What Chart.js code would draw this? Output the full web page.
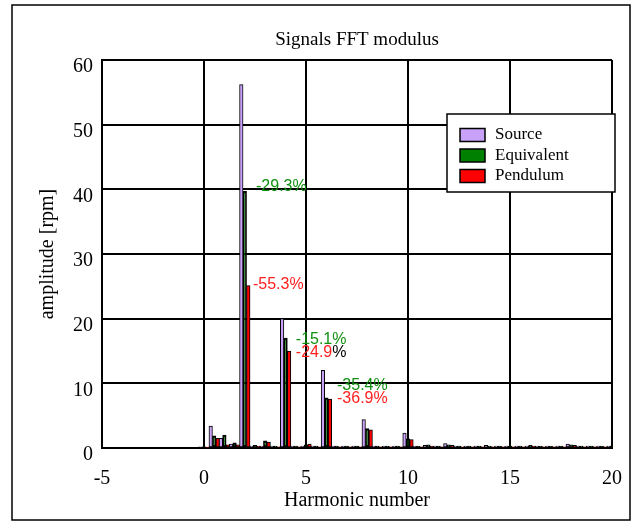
<!DOCTYPE html>
<html><head><meta charset="utf-8">
<script src="https://cdn.jsdelivr.net/npm/chart.js@4/dist/chart.umd.min.js"></script>
<style>html,body{margin:0;padding:0;background:#fff}#wrap{width:642px;height:527px}</style>
</head><body><div id="wrap"><canvas id="c" width="642" height="527"></canvas></div>
<script>
const harmonics = [0,0.5,1,1.5,2,2.5,3,3.5,4,4.5,5,5.5,6,6.5,7,7.5,8,8.5,9,9.5,10,10.5,11,11.5,12,12.5,13,13.5,14,14.5,15,15.5,16,16.5,17,17.5,18,18.5,19,19.5,20];
const source     = [0.2,3.4,1.5,0.6,56.2,0.3,0.3,0.3,20.0,0.3,0.3,0.3,12.0,0.3,0.3,0.3,4.4,0.3,0.3,0.3,2.3,0.3,0.4,0.3,0.7,0.3,0.3,0.3,0.4,0.3,0.3,0.3,0.3,0.3,0.3,0.3,0.6,0.3,0.3,0.3,0.3];
const equivalent = [0.2,1.9,2.0,0.8,39.7,0.4,1.1,0.3,17.0,0.3,0.5,0.3,7.75,0.3,0.3,0.3,3.0,0.3,0.3,0.3,1.4,0.3,0.5,0.3,0.5,0.3,0.3,0.3,0.3,0.3,0.3,0.3,0.4,0.3,0.3,0.3,0.5,0.3,0.3,0.3,0.3];
const pendulum   = [0.1,1.5,0.5,0.5,25.1,0.3,0.9,0.2,15.0,0.2,0.6,0.2,7.57,0.2,0.2,0.2,2.8,0.2,0.2,0.2,1.3,0.2,0.3,0.2,0.4,0.2,0.2,0.2,0.2,0.2,0.2,0.2,0.3,0.2,0.2,0.2,0.4,0.2,0.2,0.2,0.2];
const seriesNames = ['Source','Equivalent','Pendulum'];
const seriesColors = ['#c8a2f8','#008000','#ff0000'];
const xTicks = [-5,0,5,10,15,20];
const yTicks = [0,10,20,30,40,50,60];
const noteX = [2.55,2.4,4.5,4.5,6.52,6.52];
const noteY = [40.4,25.2,16.7,14.8,9.7,7.6];
const noteText = ['-29.3%','-55.3%','-15.1%','-24.9','-35.4%','-36.9%'];
const noteSuffix = ['','','','%','',''];
const noteColor = ['#109010','#ff2020','#109010','#ff2020','#109010','#ff2020'];

const SERIF = "'Liberation Serif','Times New Roman',serif";
const SANS = "'Liberation Sans',Arial,sans-serif";

const values = [source, equivalent, pendulum];
const borderWidths = [1, 1.75, 1];
const datasets = seriesNames.map((name, k) => ({
  label: name,
  data: harmonics.map((h, i) => ({x: h, y: values[k][i]})),
  backgroundColor: seriesColors[k],
  borderColor: '#000',
  borderWidth: borderWidths[k],
  borderSkipped: false,
  barThickness: 3.5
}));

const framePlugin = {
  id: 'frame',
  beforeDraw(chart) {
    const ctx = chart.ctx;
    ctx.save();
    ctx.fillStyle = '#fff';
    ctx.fillRect(0, 0, chart.width, chart.height);
    ctx.strokeStyle = '#000';
    ctx.lineWidth = 1.5;
    ctx.strokeRect(12, 5, 618, 515);
    const a = chart.chartArea;
    ctx.fillStyle = '#000';
    ctx.font = '19px ' + SERIF;
    ctx.textAlign = 'center';
    ctx.textBaseline = 'middle';
    ctx.fillText('Signals FFT modulus', (a.left + a.right) / 2, 40);
    ctx.restore();
  },
  afterDatasetsDraw(chart) {
    const ctx = chart.ctx;
    const xs = chart.scales.x, ys = chart.scales.y;
    ctx.save();
    ctx.font = '16px ' + SANS;
    ctx.textAlign = 'left';
    ctx.textBaseline = 'middle';
    noteText.forEach((t, i) => {
      const px = xs.getPixelForValue(noteX[i]);
      const py = ys.getPixelForValue(noteY[i]);
      ctx.fillStyle = noteColor[i];
      ctx.fillText(t, px, py);
      if (noteSuffix[i]) {
        ctx.fillStyle = '#000';
        ctx.fillText(noteSuffix[i], px + ctx.measureText(t).width, py);
      }
    });
    ctx.restore();
  },
  afterDraw(chart) {
    const ctx = chart.ctx;
    ctx.save();
    const bx = 447, by = 114, bw = 168, bh = 78;
    ctx.fillStyle = '#fff';
    ctx.fillRect(bx, by, bw, bh);
    ctx.strokeStyle = '#000';
    ctx.lineWidth = 1.5;
    ctx.strokeRect(bx, by, bw, bh);
    ctx.font = '17px ' + SERIF;
    ctx.textAlign = 'left';
    ctx.textBaseline = 'middle';
    chart.data.datasets.forEach((d, i) => {
      const cy = by + 21 + i * 20.5;
      ctx.fillStyle = d.backgroundColor;
      ctx.fillRect(460, cy - 6.5, 25, 13);
      ctx.lineWidth = 1.5;
      ctx.strokeStyle = '#000';
      ctx.strokeRect(460, cy - 6.5, 25, 13);
      ctx.fillStyle = '#000';
      ctx.fillText(d.label, 495, cy);
    });
    ctx.restore();
  }
};

new Chart(document.getElementById('c'), {
  type: 'bar',
  data: {datasets},
  options: {
    responsive: false,
    animation: false,
    devicePixelRatio: 1,
    layout: {padding: {left: 12, right: 30, top: 60, bottom: 7}},
    plugins: {legend: {display: false}, title: {display: false}, tooltip: {enabled: false}},
    scales: {
      x: {
        type: 'linear', min: -5, max: 20, offset: false,
        afterBuildTicks: s => { s.ticks = xTicks.map(v => ({value: v})); },
        afterFit: s => { s.height = 72; },
        grid: {color: '#000', lineWidth: 2, drawTicks: false, offset: false},
        border: {display: true, color: '#000', width: 2},
        ticks: {color: '#000', font: {family: SERIF, size: 20}, padding: 19, maxRotation: 0, autoSkip: false},
        title: {display: true, text: 'Harmonic number', color: '#000', font: {family: SERIF, size: 20}, padding: {top: 0, bottom: 7}}
      },
      y: {
        min: 0, max: 60,
        afterBuildTicks: s => { s.ticks = yTicks.map(v => ({value: v})); },
        afterFit: s => { s.width = 90; },
        grid: {color: '#000', lineWidth: 2, drawTicks: false},
        border: {display: true, color: '#000', width: 2},
        ticks: {color: '#000', font: {family: SERIF, size: 20}, padding: 9, labelOffset: 7},
        title: {display: true, text: 'amplitude [rpm]', color: '#000', font: {family: SERIF, size: 20}, padding: {top: 24, bottom: 0}}
      }
    }
  },
  plugins: [framePlugin]
});
</script></body></html>
